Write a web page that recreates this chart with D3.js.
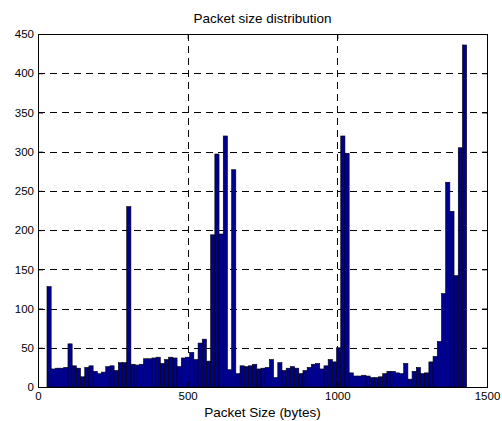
<!DOCTYPE html>
<html>
<head>
<meta charset="utf-8">
<script src="https://cdn.jsdelivr.net/npm/d3@7"></script>
<style>
  body { margin: 0; background: #fff; }
  text { font-family: "Liberation Sans", Arial, sans-serif; }
</style>
</head>
<body>
<script>
// Step 1: data (100 bins)
// =================================
var binStart = 30;      // left edge of first bin (bytes)
var binEnd = 1432;      // right edge of last bin (bytes)
var counts = [
  128, 23, 24, 24, 25, 55, 27, 24, 13, 25,
  27, 20, 17, 19, 26, 27, 21, 31, 31, 230,
  29, 28, 29, 36, 36, 37, 38, 30, 35, 38,
  37, 26, 37, 38, 44, 35, 56, 61, 33, 194,
  297, 195, 320, 22, 277, 17, 27, 26, 27, 29,
  23, 24, 25, 35, 12, 31, 21, 24, 26, 24,
  17, 21, 25, 29, 30, 23, 27, 35, 32, 50,
  320, 298, 18, 14, 14, 15, 14, 12, 12, 13,
  17, 20, 20, 18, 17, 30, 10, 20, 25, 17,
  18, 32, 39, 58, 119, 261, 224, 142, 305, 436
];
var xTicks = [0, 500, 1000, 1500];
var yTicks = [0, 50, 100, 150, 200, 250, 300, 350, 400, 450];

// Step 2: chart setup
// =================================
var svgWidth = 502;
var svgHeight = 421;

var margin = { top: 34, right: 15, bottom: 34, left: 38 };
var width = 487 - margin.left;
var height = 387 - margin.top;

var svg = d3.select("body")
  .append("svg")
  .attr("width", svgWidth)
  .attr("height", svgHeight);

var chartGroup = svg.append("g")
  .attr("transform", `translate(${margin.left}, ${margin.top})`);

var xScale = d3.scaleLinear().domain([0, 1500]).range([0, width]);
var yScale = d3.scaleLinear().domain([0, 450]).range([height, 0]);

var binWidth = (binEnd - binStart) / counts.length;

// grid lines (dashed)
chartGroup.selectAll(".hgrid")
  .data(yTicks.slice(1, -1))
  .enter()
  .append("line")
  .attr("x1", 0).attr("x2", width)
  .attr("y1", d => Math.round(yScale(d)) + 0.5)
  .attr("y2", d => Math.round(yScale(d)) + 0.5)
  .attr("stroke", "#000")
  .attr("stroke-dasharray", "7,5");

chartGroup.selectAll(".vgrid")
  .data(xTicks.slice(1, -1))
  .enter()
  .append("line")
  .attr("y1", 0).attr("y2", height)
  .attr("x1", d => Math.round(xScale(d)) + 0.5)
  .attr("x2", d => Math.round(xScale(d)) + 0.5)
  .attr("stroke", "#000")
  .attr("stroke-dasharray", "7,5");

// bars
chartGroup.selectAll("rect.bar")
  .data(counts)
  .enter()
  .append("rect")
  .attr("class", "bar")
  .attr("x", (d, i) => xScale(binStart + i * binWidth))
  .attr("width", (d, i) => xScale(binStart + (i + 1) * binWidth) - xScale(binStart + i * binWidth))
  .attr("y", d => yScale(d))
  .attr("height", d => height - yScale(d))
  .attr("fill", "#00008f")
  .attr("stroke", "#000")
  .attr("stroke-width", 0.6);

// axes with inward ticks
var bottomAxis = d3.axisBottom(xScale).tickValues(xTicks).tickFormat(d3.format("d"))
  .tickSizeInner(-5).tickSizeOuter(0).tickPadding(5);
var leftAxis = d3.axisLeft(yScale).tickValues(yTicks).tickFormat(d3.format("d"))
  .tickSizeInner(-5).tickSizeOuter(0).tickPadding(4);
var topAxis = d3.axisTop(xScale).tickValues(xTicks).tickSizeInner(-5).tickSizeOuter(0).tickFormat("");
var rightAxis = d3.axisRight(yScale).tickValues(yTicks).tickSizeInner(-5).tickSizeOuter(0).tickFormat("");

function styleAxis(g) {
  g.select(".domain").remove();
  g.selectAll("line").attr("stroke", "#000");
  g.selectAll("text").attr("fill", "#000").style("font-size", "11.5px");
}

chartGroup.append("g").attr("transform", `translate(0, ${height})`).call(bottomAxis).call(styleAxis);
chartGroup.append("g").call(leftAxis).call(styleAxis);
chartGroup.append("g").call(topAxis).call(styleAxis);
chartGroup.append("g").attr("transform", `translate(${width}, 0)`).call(rightAxis).call(styleAxis);

// box
chartGroup.append("rect")
  .attr("x", 0.5).attr("y", 0.5)
  .attr("width", width).attr("height", height)
  .attr("fill", "none")
  .attr("stroke", "#000");

// title and label
svg.append("text")
  .attr("x", margin.left + width / 2)
  .attr("y", 23)
  .attr("text-anchor", "middle")
  .style("font-size", "13.5px")
  .text("Packet size distribution");

svg.append("text")
  .attr("x", margin.left + width / 2)
  .attr("y", 417)
  .attr("text-anchor", "middle")
  .style("font-size", "13.5px")
  .text("Packet Size (bytes)");
</script>
</body>
</html>
